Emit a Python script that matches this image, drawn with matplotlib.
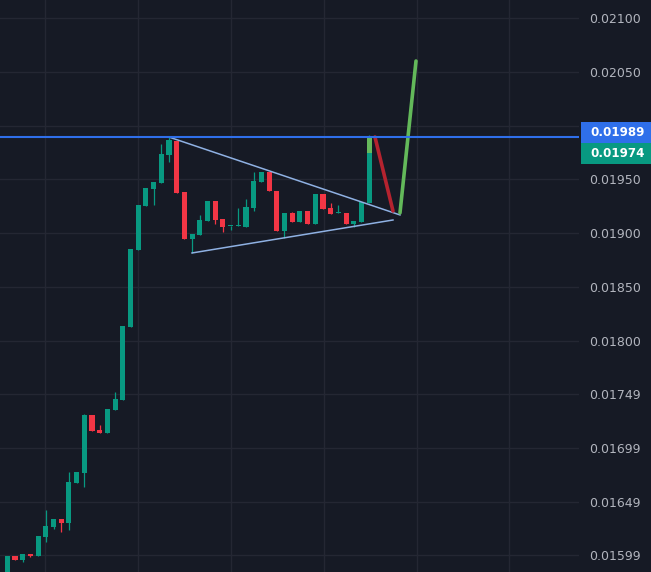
import numpy as np
import matplotlib.pyplot as plt
from matplotlib.patches import Rectangle
import matplotlib.transforms as mtransforms

# candles (price units)
opens = [0.015817, 0.015993, 0.015956, 0.016012, 0.015993, 0.016170, 0.016264, 0.016338, 0.016301, 0.016673,
         0.016766, 0.017306, 0.017167, 0.017139, 0.017353, 0.017446, 0.018126, 0.018843, 0.019253, 0.019411,
         0.019467, 0.019727, 0.019858, 0.019383, 0.018945, 0.018982, 0.019113, 0.019299, 0.019131, 0.019066,
         0.019066, 0.019057, 0.019234, 0.019476, 0.019569, 0.019392, 0.019020, 0.019188, 0.019104, 0.019206,
         0.019085, 0.019364, 0.019234, 0.019188, 0.019188, 0.019085, 0.019104, 0.019281]
closes = [0.015993, 0.015956, 0.016012, 0.015993, 0.016180, 0.016273, 0.016338, 0.016301, 0.016683, 0.016776,
          0.017306, 0.017157, 0.017139, 0.017362, 0.017455, 0.018135, 0.018852, 0.019262, 0.019420, 0.019476,
          0.019736, 0.019867, 0.019374, 0.018945, 0.018992, 0.019122, 0.019299, 0.019122, 0.019057, 0.019070,
          0.019070, 0.019243, 0.019485, 0.019569, 0.019392, 0.019020, 0.019188, 0.019104, 0.019206, 0.019085,
          0.019364, 0.019225, 0.019178, 0.019190, 0.019085, 0.019113, 0.019290, 0.019746]
highs = [0.015993, 0.015993, 0.016012, 0.016012, 0.016180, 0.016422, 0.016338, 0.016338, 0.016776, 0.016776,
         0.017316, 0.017306, 0.017213, 0.017362, 0.017521, 0.018135, 0.018852, 0.019262, 0.019420, 0.019476,
         0.019830, 0.019895, 0.019858, 0.019383, 0.018992, 0.019169, 0.019299, 0.019299, 0.019131, 0.019070,
         0.019234, 0.019318, 0.019569, 0.019569, 0.019569, 0.019392, 0.019188, 0.019197, 0.019206, 0.019206,
         0.019364, 0.019364, 0.019281, 0.019262, 0.019188, 0.019113, 0.019290, 0.019913]
lows = [0.015817, 0.015956, 0.015937, 0.015984, 0.015993, 0.016124, 0.016245, 0.016217, 0.016236, 0.016673,
        0.016636, 0.017157, 0.017139, 0.017139, 0.017353, 0.017446, 0.018126, 0.018843, 0.019253, 0.019262,
        0.019467, 0.019662, 0.019374, 0.018945, 0.018815, 0.018982, 0.019113, 0.019085, 0.019010, 0.019029,
        0.019066, 0.019057, 0.019206, 0.019476, 0.019392, 0.019020, 0.018954, 0.019104, 0.019104, 0.019085,
        0.019085, 0.019225, 0.019178, 0.019188, 0.019085, 0.019057, 0.019104, 0.019281]

# drawings
level = 0.01989
last_price = 0.01974
tri_upper_x, tri_upper_y = [21.25, 51.0], [0.019888, 0.019169]
tri_lower_x, tri_lower_y = [23.99, 50.09], [0.018815, 0.019122]
red_leg_x, red_leg_y = [47.75, 50.09], [0.019895, 0.019206]
green_leg_x, green_leg_y = [51.0, 53.08], [0.019188, 0.020602]

tick_vals = [0.02100, 0.02050, 0.02000, 0.01950, 0.01900, 0.01850, 0.01800, 0.01750, 0.01700, 0.01650, 0.01600]
tick_labels = ['0.02100', '0.02050', '0.02000', '0.01950', '0.01900', '0.01850', '0.01800',
               '0.01749', '0.01699', '0.01649', '0.01599']

bg = '#161a25'
up_col = '#089981'
dn_col = '#f23645'
grid_col = '#242733'

fig = plt.figure(figsize=(6.51, 5.72), dpi=100, facecolor=bg)
ax = fig.add_axes([0, 0, 579 / 651, 1])
ax.set_facecolor(bg)

x = np.arange(len(opens))
o = np.array(opens)
c = np.array(closes)
cols = [up_col if cc >= oo else dn_col for oo, cc in zip(o, c)]

ax.vlines(x, lows, highs, colors=cols, lw=0.9, zorder=3)
body = np.maximum(np.abs(c - o), 0.000012)
ax.bar(x, body, bottom=np.minimum(o, c), width=0.66, color=cols, zorder=4, linewidth=0)

# light green leg on the last candle
ax.bar(x[-1], level - c[-1], bottom=c[-1], width=0.66, color='#66b95c', zorder=5, linewidth=0)

# triangle
ax.plot(tri_upper_x, tri_upper_y, color='#8fb1e3', lw=1.1, zorder=6)
ax.plot(tri_lower_x, tri_lower_y, color='#8fb1e3', lw=1.1, zorder=6)

# projection legs
ax.plot(red_leg_x, red_leg_y, color='#b5232f', lw=2.6, solid_capstyle='round', zorder=6)
ax.plot(green_leg_x, green_leg_y, color='#63b95a', lw=2.6, solid_capstyle='round', zorder=6)

# horizontal level
ax.axhline(level, color='#2f6fea', lw=1.5, zorder=7)

ax.set_xlim(-0.95, 74.25)
ax.set_ylim(0.015845, 0.021170)
ax.set_xticks([4.9, 17.0, 29.05, 41.1, 53.15, 65.2])
ax.set_xticklabels([])
ax.tick_params(axis='x', length=0)
ax.yaxis.tick_right()
ax.set_yticks(tick_vals)
ax.set_yticklabels(tick_labels)
ax.tick_params(axis='y', length=0, pad=7.5, labelsize=9, labelcolor='#b2b5be')
ax.grid(True, color=grid_col, lw=1.0)
ax.set_axisbelow(True)
for s in ax.spines.values():
    s.set_visible(False)

# price tags on the axis
tr = mtransforms.blended_transform_factory(ax.transAxes, ax.transData)
h = 0.000195
x0 = 581 / 579
w = 70 / 579
tags = [('0.01974', '#089981', last_price - h / 2),
        ('0.01989', '#2f6fea', last_price + h / 2)]
for txt, colr, y0 in tags:
    ax.add_patch(Rectangle((x0, y0), w, h, transform=tr, facecolor=colr, edgecolor='none',
                           clip_on=False, zorder=10))
    ax.text(x0 + 9 / 579, y0 + h / 2, txt, transform=tr, color='white', fontsize=8.6,
            fontweight='bold', va='center', ha='left', zorder=11, clip_on=False)

fig.savefig('out.png', dpi=100, facecolor=bg)
